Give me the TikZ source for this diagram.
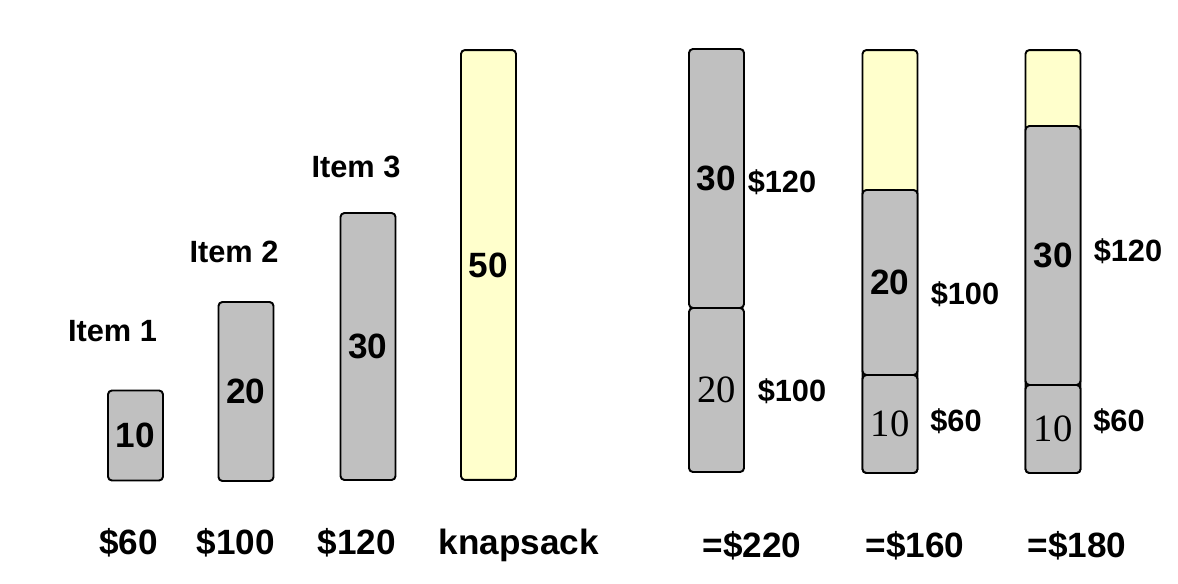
\documentclass[tikz,border=0pt]{standalone}
\usepackage{fontspec}
\setmainfont{Liberation Sans}
\newfontfamily\numserif{Liberation Serif}
\usetikzlibrary{positioning}
\definecolor{itemgray}{RGB}{192,192,192}
\definecolor{sackyellow}{RGB}{255,255,204}
\tikzset{
  bar/.style={draw=black,line width=1.1pt,fill=#1,rounded corners=2.2pt,
    minimum width=1.1cm,inner sep=0pt,font=\fontsize{20}{24}\selectfont\bfseries},
  bar/.default=itemgray,
  serif bar/.style={bar,font=\fontsize{22}{26}\selectfont\numserif},
  tag/.style={anchor=base,inner sep=0pt,font=\fontsize{17.5}{20}\selectfont\bfseries},
  total/.style={anchor=base,inner sep=0pt,font=\fontsize{20}{24}\selectfont\bfseries},
}
\begin{document}
\begin{tikzpicture}[x=0.02cm,y=-0.02cm]
  \useasboundingbox (0,0) rectangle (1178,584);
  % items and knapsack
  \node[bar,minimum height=1.8cm] (item1) at (135.5,435.5) {10};
  \node[bar,minimum height=3.58cm] (item2) at (246,391.5) {20};
  \node[bar,minimum height=5.34cm] (item3) at (368,346.5) {30};
  \node[bar=sackyellow,minimum height=8.6cm] (sack) at (488.5,265) {50};
  \node[tag] (name1) at (112.5,342) {Item 1};
  \node[tag] (name2) at (234,263) {Item 2};
  \node[tag] (name3) at (356,178) {Item 3};
  \node[total] (val1) at (128.5,555) {\$60};
  \node[total] (val2) at (236,555) {\$100};
  \node[total] (val3) at (357,555) {\$120};
  \node[total] (sackname) at (519,555) {knapsack};
  % filled knapsacks
  \node[bar,minimum height=5.18cm] (a30) at (716.5,178.5) {30};
  \node[serif bar,minimum height=3.28cm] (a20) at (716.5,390) {20};
  \node[tag] (a30v) at (782,193) {\$120};
  \node[tag] (a20v) at (792,402) {\$100};
  \node[total] (atot) at (752,558) {=\$220};
  \node[bar=sackyellow,minimum height=8.46cm] (bsack) at (890,261.5) {};
  \node[bar,minimum height=3.7cm] (b20) at (890,282.5) {20};
  \node[serif bar,minimum height=1.96cm] (b10) at (890,424) {10};
  \node[tag] (b20v) at (965,305) {\$100};
  \node[tag] (b10v) at (956,432) {\$60};
  \node[total] (btot) at (915,558) {=\$160};
  \node[bar=sackyellow,minimum height=8.46cm] (csack) at (1053,261.5) {};
  \node[bar,minimum height=5.18cm] (c30) at (1053,255.5) {30};
  \node[serif bar,minimum height=1.76cm] (c10) at (1053,429) {10};
  \node[tag] (c30v) at (1128,262) {\$120};
  \node[tag] (c10v) at (1119,432) {\$60};
  \node[total] (ctot) at (1077,558) {=\$180};
\end{tikzpicture}
\end{document}
